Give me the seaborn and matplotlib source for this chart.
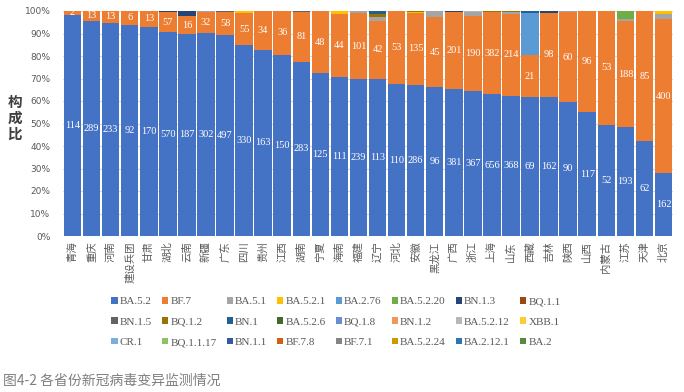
import numpy as np
import pandas as pd
import matplotlib
matplotlib.use("Agg")
import matplotlib.pyplot as plt
from matplotlib.patches import Patch
import seaborn as sns

# ---- data ----
provinces = ['青海', '重庆', '河南', '建设兵团', '甘肃', '湖北', '云南', '新疆', '广东', '四川',
             '贵州', '江西', '湖南', '宁夏', '海南', '福建', '辽宁', '河北', '安徽', '黑龙江',
             '广西', '浙江', '上海', '山东', '西藏', '吉林', '陕西', '山西', '内蒙古', '江苏',
             '天津', '北京']

ba52 = [114, 289, 233, 92, 170, 570, 187, 302, 497, 330, 163, 150, 283, 125, 111, 239,
        113, 110, 286, 96, 381, 367, 656, 368, 69, 162, 90, 117, 52, 193, 62, 162]
bf7 = [2, 13, 13, 6, 13, 57, 16, 32, 58, 55, 34, 36, 81, 48, 44, 101,
       42, 53, 135, 45, 201, 190, 382, 214, 21, 98, 60, 96, 53, 188, 85, 400]

# minor lineages (sparse, estimated from the thin top segments)
ba51 = {'新疆': 1, '福建': 3, '辽宁': 3, '黑龙江': 4, '浙江': 9, '山东': 5, '陕西': 1, '江苏': 4, '北京': 13}
ba521 = {'四川': 4, '海南': 2, '安徽': 2, '北京': 8}
ba276 = {'西藏': 21}
ba5220 = {'江苏': 14}
bn13 = {'湖北': 3, '云南': 5, '广西': 3, '吉林': 2}
bn15 = {'广东': 2, '湖南': 1}
bq12 = {'辽宁': 2, '安徽': 2, '上海': 5, '山东': 3}
bn1 = {'辽宁': 2, '西藏': 1}
ba5212 = {'浙江': 3}

variants = ['BA.5.2', 'BF.7', 'BA.5.1', 'BA.5.2.1', 'BA.2.76', 'BA.5.2.20', 'BN.1.3', 'BQ.1.1',
            'BN.1.5', 'BQ.1.2', 'BN.1', 'BA.5.2.6', 'BQ.1.8', 'BN.1.2', 'BA.5.2.12', 'XBB.1',
            'CR.1', 'BQ.1.1.17', 'BN.1.1', 'BF.7.8', 'BF.7.1', 'BA.5.2.24', 'BA.2.12.1', 'BA.2']
colors = ['#4472C4', '#ED7D31', '#A5A5A5', '#FFC000', '#5B9BD5', '#70AD47', '#264478', '#9E480E',
          '#636363', '#997300', '#255E91', '#43682B', '#698ED0', '#F1975A', '#B7B7B7', '#FFCD33',
          '#7CAFDD', '#8CC168', '#335AA1', '#D26012', '#848484', '#CC9A00', '#2E75B6', '#5A8A39']

# ---- build table ----
counts = pd.DataFrame(0, index=provinces, columns=variants, dtype=float)
counts['BA.5.2'] = ba52
counts['BF.7'] = bf7
for name, d in [('BA.5.1', ba51), ('BA.5.2.1', ba521), ('BA.2.76', ba276), ('BA.5.2.20', ba5220),
                ('BN.1.3', bn13), ('BN.1.5', bn15), ('BQ.1.2', bq12), ('BN.1', bn1), ('BA.5.2.12', ba5212)]:
    for p, v in d.items():
        counts.loc[p, name] = v

pct = counts.div(counts.sum(axis=1), axis=0) * 100
cum = pct.cumsum(axis=1)

sns.set_theme(style="white")
plt.rcParams['font.family'] = ['Noto Sans CJK SC', 'DejaVu Sans']

fig = plt.figure(figsize=(6.84, 3.92), dpi=100)
ax = fig.add_axes([63 / 684, 1 - 236 / 392, 610 / 684, 225 / 392])

# overlay cumulative bars, top layer first
for name, c in zip(variants[::-1], colors[::-1]):
    dfp = pd.DataFrame({'province': provinces, 'top': cum[name].values})
    sns.barplot(data=dfp, x='province', y='top', order=provinces, color=c, saturation=1,
                width=0.92, linewidth=0, errorbar=None, ax=ax, zorder=2)

# value labels
for i, p in enumerate(provinces):
    b = pct.loc[p, 'BA.5.2']
    o = pct.loc[p, 'BF.7']
    ax.text(i, b / 2, str(ba52[i]), ha='center', va='center', color='white',
            fontsize=7.5, family='Liberation Serif', zorder=5)
    ax.text(i, b + o / 2, str(bf7[i]), ha='center', va='center', color='white',
            fontsize=7.5, family='Liberation Serif', zorder=5)

ax.set_xlim(-0.5, len(provinces) - 0.5)
ax.set_ylim(0, 100)
ax.set_yticks(np.arange(0, 101, 10))
ax.set_yticklabels([f'{v}%' for v in range(0, 101, 10)], fontsize=6.5, color='#595959',
                   family='DejaVu Sans')
ax.set_xticks(range(len(provinces)))
ax.set_xticklabels(provinces, rotation=90, fontsize=7.5, color='#595959')
ax.tick_params(axis='both', length=0)
ax.tick_params(axis='y', pad=9)
ax.tick_params(axis='x', pad=4)
ax.set_xlabel('')
ax.set_ylabel('')
ax.yaxis.grid(True, color='#D9D9D9', lw=0.8)
ax.set_axisbelow(True)
for s in ax.spines.values():
    s.set_visible(False)

fig.text(15 / 684, 1 - 118 / 392, '构\n成\n比', ha='center', va='center', fontsize=10.5,
         fontweight='bold', color='#404040', linespacing=1.0)

# legend, row-major order like the original
handles = [Patch(facecolor=c, edgecolor='none') for c in colors]
ncol, nrow = 8, 3
order = [j + ncol * i for j in range(ncol) for i in range(nrow)]
fig.legend([handles[k] for k in order], [variants[k] for k in order], ncol=ncol,
           loc='center', bbox_to_anchor=(336 / 684, 1 - 322 / 392), frameon=False,
           prop={'family': 'Liberation Serif', 'size': 8}, labelcolor='#595959',
           handlelength=0.55, handleheight=0.55, handletextpad=0.2, columnspacing=0.9,
           labelspacing=1.0)

fig.text(3 / 684, 1 - 381 / 392, '图4-2 各省份新冠病毒变异监测情况', ha='left', va='center',
         fontsize=10, color='#7F7F7F')

fig.savefig('out.png', dpi=100)
